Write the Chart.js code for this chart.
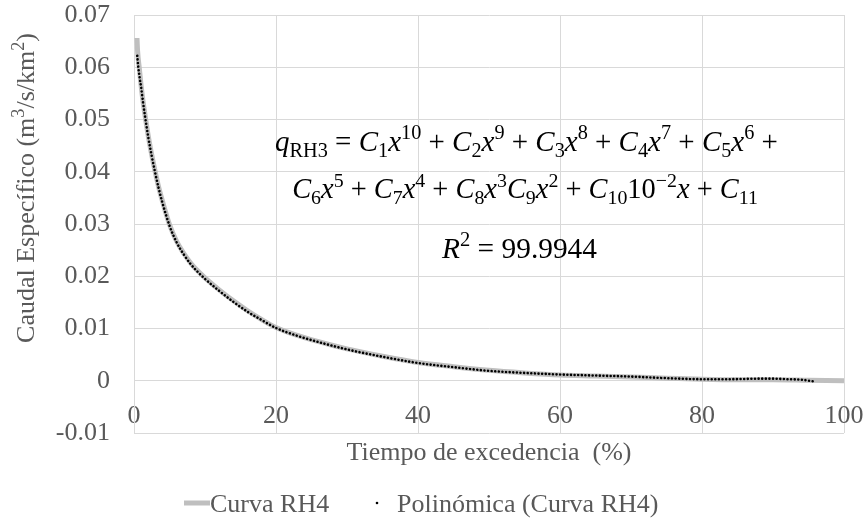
<!DOCTYPE html>
<html>
<head>
<meta charset="utf-8">
<script src="https://cdn.jsdelivr.net/npm/chart.js@4.4.1/dist/chart.umd.min.js"></script>
<style>
  html, body { margin: 0; padding: 0; background: #fff; }
  #wrap { width: 864px; height: 520px; position: relative; }
</style>
</head>
<body>
<div id="wrap"><canvas id="flowChart"></canvas></div>
<script>
// Curva RH4 (gray line)
const curveX = [0.42, 0.5, 0.75, 1.0, 1.25, 1.5, 2, 2.5, 3, 3.5, 4, 5, 6, 7, 8, 9, 10, 12, 14, 16, 18, 20, 23, 26, 30, 35, 40, 45, 50, 55, 60, 65, 70, 75, 80, 85, 90, 95, 100];
const curveY = [0.0656, 0.0632, 0.0598, 0.0565, 0.0537, 0.0513, 0.0469, 0.0432, 0.0399, 0.0369, 0.0344, 0.0299, 0.0267, 0.0244, 0.0225, 0.0210, 0.0197, 0.0174, 0.0153, 0.0134, 0.0117, 0.0102, 0.0087, 0.0075, 0.0061, 0.0047, 0.0035, 0.0027, 0.0020, 0.0015, 0.0011, 0.0009, 0.0007, 0.0005, 0.0003, 0.0002, 0.0002, 0.0001, 0.0000];

// Polinómica (Curva RH4) trendline (dotted)
const polyX = [0.46, 0.6, 0.8, 1, 1.25, 1.5, 2, 2.5, 3, 3.5, 4, 5, 6, 7, 8, 9, 10, 12, 14, 16, 18, 20, 23, 26, 30, 35, 40, 45, 50, 55, 60, 65, 70, 75, 80, 84, 88, 90, 92, 94, 95.6];
const polyY = [0.0622, 0.0601, 0.0580, 0.0562, 0.0535, 0.0511, 0.0467, 0.0430, 0.0397, 0.0367, 0.0341, 0.0297, 0.0265, 0.0242, 0.0223, 0.0208, 0.0195, 0.0172, 0.0151, 0.0132, 0.0116, 0.0101, 0.0086, 0.0074, 0.0060, 0.0046, 0.0034, 0.0026, 0.0019, 0.0015, 0.0012, 0.0010, 0.0008, 0.0005, 0.0003, 0.0003, 0.0004, 0.0004, 0.0003, 0.0002, -0.0001];

const xTicks = [0, 20, 40, 60, 80, 100];
const yTicks = [-0.01, 0, 0.01, 0.02, 0.03, 0.04, 0.05, 0.06, 0.07];
const seriesNames = ['Curva RH4', 'Polinómica (Curva RH4)'];
const xTitle = 'Tiempo de excedencia  (%)';

const FONT = 'Liberation Serif';
const TXT = '#595959';
const GRID = '#d9d9d9';

// equation pieces: [text, kind]  i = italic, r = roman, sub / sup = small roman
const eqLine1 = [['q', 'i'], ['RH3', 'sub'], [' = ', 'r'], ['C', 'i'], ['1', 'sub'], ['x', 'i'], ['10', 'sup'], [' + ', 'r'],
  ['C', 'i'], ['2', 'sub'], ['x', 'i'], ['9', 'sup'], [' + ', 'r'], ['C', 'i'], ['3', 'sub'], ['x', 'i'], ['8', 'sup'], [' + ', 'r'],
  ['C', 'i'], ['4', 'sub'], ['x', 'i'], ['7', 'sup'], [' + ', 'r'], ['C', 'i'], ['5', 'sub'], ['x', 'i'], ['6', 'sup'], [' +', 'r']];
const eqLine2 = [['C', 'i'], ['6', 'sub'], ['x', 'i'], ['5', 'sup'], [' + ', 'r'], ['C', 'i'], ['7', 'sub'], ['x', 'i'], ['4', 'sup'], [' + ', 'r'],
  ['C', 'i'], ['8', 'sub'], ['x', 'i'], ['3', 'sup'], ['C', 'i'], ['9', 'sub'], ['x', 'i'], ['2', 'sup'], [' + ', 'r'],
  ['C', 'i'], ['10', 'sub'], ['10', 'r'], ['\u22122', 'sup'], ['x', 'i'], [' + ', 'r'], ['C', 'i'], ['11', 'sub']];
const eqLine3 = [['R', 'i'], ['2', 'sup'], [' = 99.9944', 'r']];
const yTitle = [['Caudal Específico (m', 'r'], ['3', 'sup'], ['/s/km', 'r'], ['2', 'sup'], [')', 'r']];

function fontFor(kind, size) {
  if (kind === 'i') return `italic ${size}px ${FONT}`;
  if (kind === 'sub' || kind === 'sup') return `${size * 0.7}px ${FONT}`;
  return `${size}px ${FONT}`;
}
function mathWidth(ctx, toks, size) {
  let w = 0;
  toks.forEach(t => { ctx.font = fontFor(t[1], size); w += ctx.measureText(t[0]).width; });
  return w;
}
function drawMath(ctx, toks, cx, base, size) {
  let x = cx - mathWidth(ctx, toks, size) / 2;
  toks.forEach(t => {
    ctx.font = fontFor(t[1], size);
    const dy = t[1] === 'sub' ? size * 0.22 : t[1] === 'sup' ? -size * 0.4 : 0;
    ctx.fillText(t[0], x, base + dy);
    x += ctx.measureText(t[0]).width;
  });
}
// fit a line of math to a target width
function fitMath(ctx, toks, left, right, base) {
  const size = 26 * (right - left) / mathWidth(ctx, toks, 26);
  drawMath(ctx, toks, (left + right) / 2, base, size);
}

const decorations = {
  id: 'decorations',
  afterDraw(chart) {
    const ctx = chart.ctx;
    ctx.save();
    ctx.textAlign = 'left';
    ctx.textBaseline = 'alphabetic';

    // equation
    ctx.fillStyle = '#000';
    fitMath(ctx, eqLine1, 275, 778, 151);
    fitMath(ctx, eqLine2, 292, 758, 198);
    fitMath(ctx, eqLine3, 442, 597, 258);

    // y axis title
    ctx.fillStyle = TXT;
    ctx.save();
    ctx.translate(34, 188);
    ctx.rotate(-Math.PI / 2);
    drawMath(ctx, yTitle, 0, 0, 26);
    ctx.restore();

    // x axis title
    ctx.font = `26px ${FONT}`;
    ctx.textAlign = 'center';
    ctx.fillText(xTitle, (chart.chartArea.left + chart.chartArea.right) / 2, 460);

    // legend
    ctx.textAlign = 'left';
    ctx.strokeStyle = '#bfbfbf';
    ctx.lineWidth = 5;
    ctx.beginPath();
    ctx.moveTo(184, 503);
    ctx.lineTo(210, 503);
    ctx.stroke();
    ctx.fillText(seriesNames[0], 210, 512);
    ctx.fillStyle = '#000';
    ctx.beginPath();
    ctx.arc(377, 503, 1.3, 0, Math.PI * 2);
    ctx.fill();
    ctx.fillStyle = TXT;
    ctx.fillText(seriesNames[1], 397, 512);
    ctx.restore();
  }
};

const ctx = document.getElementById('flowChart').getContext('2d');
new Chart(ctx, {
  type: 'scatter',
  data: {
    datasets: [{
      label: seriesNames[1],
      data: polyX.map((x, i) => ({ x: x, y: polyY[i] })),
      showLine: true,
      borderColor: '#000',
      borderWidth: 2.6,
      borderDash: [0.01, 3.6],
      borderCapStyle: 'round',
      pointRadius: 0,
      cubicInterpolationMode: 'monotone',
      order: 0
    }, {
      label: seriesNames[0],
      data: curveX.map((x, i) => ({ x: x, y: curveY[i] })),
      showLine: true,
      borderColor: '#bfbfbf',
      borderWidth: 5,
      pointRadius: 0,
      cubicInterpolationMode: 'monotone',
      order: 1
    }]
  },
  options: {
    responsive: true,
    maintainAspectRatio: false,
    animation: false,
    layout: { padding: { left: 0, right: 20, top: 15, bottom: 87 } },
    scales: {
      x: {
        type: 'linear',
        position: { y: 0 },
        min: 0,
        max: 100,
        afterBuildTicks: s => { s.ticks = xTicks.map(v => ({ value: v })); },
        afterFit: s => { s.height = 0; s.paddingLeft = 0; s.paddingRight = 0; },
        grid: { color: GRID, drawTicks: false },
        border: { display: true, color: GRID },
        ticks: { color: TXT, font: { family: FONT, size: 26 }, padding: 20, maxRotation: 0 }
      },
      y: {
        min: -0.01,
        max: 0.07,
        afterBuildTicks: s => { s.ticks = yTicks.map(v => ({ value: v })); },
        afterFit: s => { s.width = 134; s.paddingTop = 0; s.paddingBottom = 0; },
        grid: { color: GRID, drawTicks: false },
        border: { display: true, color: GRID },
        ticks: {
          color: TXT,
          font: { family: FONT, size: 26 },
          padding: 24,
          callback: v => (Math.abs(v) < 1e-9 ? '0' : v.toFixed(2))
        }
      }
    },
    plugins: {
      legend: { display: false },
      tooltip: { enabled: false }
    }
  },
  plugins: [decorations]
});
</script>
</body>
</html>
